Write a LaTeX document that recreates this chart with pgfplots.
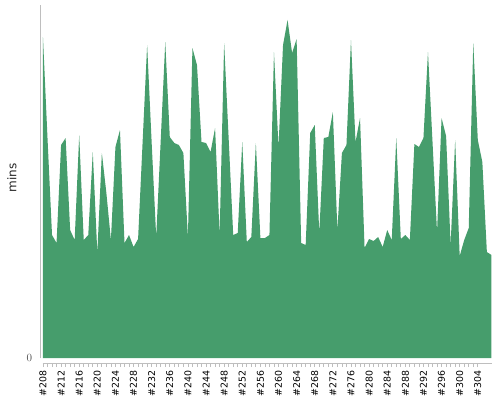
\documentclass[border=0pt]{standalone}
\usepackage{fontspec}
\setmainfont{DejaVu Sans}
\usepackage{pgfplots}
\pgfplotsset{compat=1.18}
\definecolor{areagreen}{RGB}{70,157,108}
\definecolor{axisgray}{RGB}{190,190,190}
\definecolor{labelgray}{RGB}{80,80,80}

\begin{document}
\begin{tikzpicture}
\begin{axis}[
    scale only axis,
    width=451.6pt, height=358pt,
    xmin=207.5, xmax=307.2,
    ymin=-5, ymax=353,
    separate axis lines,
    axis x line*=bottom,
    axis y line*=left,
    x axis line style={axisgray, line width=1pt, shorten <=2pt, -},
    y axis line style={axisgray, line width=1pt, shorten <=5pt, -},
    xtick={208,212,...,304},
    minor x tick num=3,
    tick align=outside,
    x tick style={axisgray, line width=0.8pt},
    major tick length=4pt,
    minor tick length=4pt,
    xticklabel={\pgfmathtruncatemacro{\t}{\tick}\#\t},
    x tick label style={font=\fontsize{9.4}{11}\selectfont, text=black, rotate=90, anchor=east},
    ytick={0},
    y tick style={draw=none},
    y tick label style={font=\fontsize{11}{13}\selectfont, text=labelgray, xshift=-1pt},
    ylabel={mins},
    ylabel style={font=\fontsize{12}{14}\selectfont, text=black!85, at={(axis description cs:-0.0636,0.5168)}, anchor=center},
]
\coordinate (o) at (rel axis cs:0,0);
\addplot[fill=areagreen, draw=none] coordinates {
(208,0) (208,321) (209,220) (210,123) (211,115) (212,213) (213,220) (214,128) (215,118)
(216,223) (217,118) (218,123) (219,206) (220,105) (221,205) (222,165) (223,118)
(224,211) (225,228) (226,115) (227,123) (228,111) (229,119) (230,216) (231,313)
(232,215) (233,121) (234,218) (235,316) (236,221) (237,215) (238,213) (239,205)
(240,121) (241,310) (242,293) (243,216) (244,215) (245,206) (246,230) (247,123)
(248,315) (249,219) (250,123) (251,125) (252,216) (253,116) (254,121) (255,215)
(256,120) (257,120) (258,123) (259,306) (260,211) (261,313) (262,338) (263,305)
(264,319) (265,115) (266,113) (267,225) (268,233) (269,125) (270,220) (271,221)
(272,246) (273,128) (274,205) (275,213) (276,318) (277,216) (278,240) (279,110)
(280,119) (281,117) (282,121) (283,111) (284,128) (285,118) (286,220) (287,119)
(288,123) (289,118) (290,214) (291,211) (292,220) (293,306) (294,216) (295,126)
(296,240) (297,222) (298,113) (299,218) (300,102) (301,118) (302,130) (303,315)
(304,218) (305,196) (306,106) (307,103) (307,0)
};
\end{axis}
\pgfresetboundingbox
\path (o) ++(-40.7pt,-37pt) rectangle ++(500pt,400pt);
\end{tikzpicture}
\end{document}
